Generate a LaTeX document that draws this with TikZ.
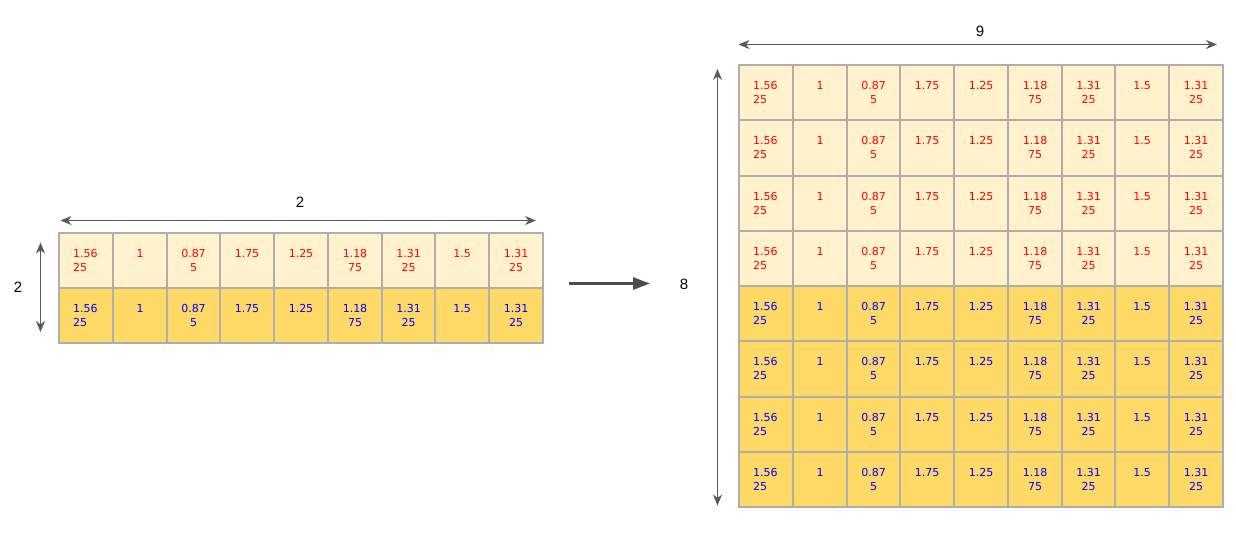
\documentclass[tikz,border=0pt]{standalone}
\usepackage{fontspec}
\setmainfont{DejaVu Sans}
\newfontfamily\labfont{Liberation Sans}
\usetikzlibrary{arrows.meta}
\definecolor{lightY}{HTML}{FFF2CC}
\definecolor{darkY}{HTML}{FFD966}
\definecolor{gridgray}{HTML}{AEAEAE}
\definecolor{arrgray}{HTML}{595959}
\definecolor{bigarr}{HTML}{4D4D4D}
\tikzset{
  cellbox/.style={draw=none, inner sep=0pt, outer sep=0pt, anchor=north west},
  gridline/.style={draw=gridgray, line width=2pt},
  celltxt/.style={inner sep=0pt, font=\fontsize{11}{14}\selectfont},
  labtxt/.style={inner sep=0pt, font=\labfont\fontsize{15}{18}\selectfont, text=black},
  dimarrow/.style={draw=arrgray, line width=1pt,
    arrows={Stealth[length=11pt,width=9pt,inset=3.5pt]-Stealth[length=11pt,width=9pt,inset=3.5pt]}},
  bigarrow/.style={draw=bigarr, line width=2.6pt, arrows={-Triangle[length=17pt,width=12pt]}}
}
% #1 name, #2 x0, #3 ytop, #4 ybottom, #5 fill, #6 text colour
\newcommand\mkrow[6]{%
  \foreach \a/\b [count=\c] in {1.56/25,1/n,0.87/5,1.75/n,1.25/n,1.18/75,1.31/25,1.5/n,1.31/25}{
    \pgfmathtruncatemacro\xl{round(#2+(\c-1)*53.75)}
    \pgfmathtruncatemacro\xr{round(#2+\c*53.75)}
    \pgfmathtruncatemacro\cw{\xr-\xl}
    \pgfmathtruncatemacro\ch{#4-#3}
    \node[cellbox, fill=#5, minimum width=\cw pt, minimum height=\ch pt] (#1-\c) at (\xl,#3) {};
    \ifnum\c=1
      \node[celltxt, text=#6, anchor=base west] (#1-a\c) at ([xshift=14pt,yshift=-24.4pt]#1-\c.north west) {\a};
      \node[celltxt, text=#6, anchor=base west] (#1-b\c) at ([xshift=14pt,yshift=-38.4pt]#1-\c.north west) {\b};
    \else
      \node[celltxt, text=#6, anchor=base] (#1-a\c) at ([yshift=-24.4pt]#1-\c.north) {\a};
      \ifnum\strcmp{\b}{n}=0 \else
        \node[celltxt, text=#6, anchor=base] (#1-b\c) at ([yshift=-38.4pt]#1-\c.north) {\b};
      \fi
    \fi
  }}
\newcommand\mklines[1]{%
  \foreach \c in {1,...,9}{\draw[gridline] (#1-\c.north west) rectangle (#1-\c.south east);}}
\begin{document}
\begin{tikzpicture}[x=1pt,y=-1pt]
\useasboundingbox (0,0) rectangle (1236,538);
% left grid
\mkrow{La}{59}{233}{288}{lightY}{red}
\mkrow{Lb}{59}{288}{343}{darkY}{blue}
\mklines{La}
\mklines{Lb}
% right grid
\foreach \r in {0,...,7}{
  \pgfmathtruncatemacro\yt{round(65+\r*55.25)}
  \pgfmathtruncatemacro\yb{round(65+(\r+1)*55.25)}
  \ifnum\r<4
    \mkrow{R\r}{739}{\yt}{\yb}{lightY}{red}
  \else
    \mkrow{R\r}{739}{\yt}{\yb}{darkY}{blue}
  \fi
}
\foreach \r in {0,...,7}{\mklines{R\r}}
% dimension arrows
\coordinate (lt1) at (60.5,220.5);
\coordinate (lt2) at (536,220.5);
\draw[dimarrow] (lt1) -- (lt2);
\coordinate (lv1) at (40.5,242.5);
\coordinate (lv2) at (40.5,332);
\draw[dimarrow] (lv1) -- (lv2);
\coordinate (rt1) at (738.5,44.5);
\coordinate (rt2) at (1217,44.5);
\draw[dimarrow] (rt1) -- (rt2);
\coordinate (rv1) at (717.5,69);
\coordinate (rv2) at (717.5,505.5);
\draw[dimarrow] (rv1) -- (rv2);
% middle arrow
\coordinate (m1) at (569,283.5);
\coordinate (m2) at (650,283.5);
\draw[bigarrow] (m1) -- (m2);
% labels
\node[labtxt] (lab2a) at (300,202.5) {2};
\node[labtxt] (lab2b) at (18,287.5) {2};
\node[labtxt] (lab9) at (980,31.5) {9};
\node[labtxt] (lab8) at (684,284.5) {8};
\end{tikzpicture}
\end{document}
